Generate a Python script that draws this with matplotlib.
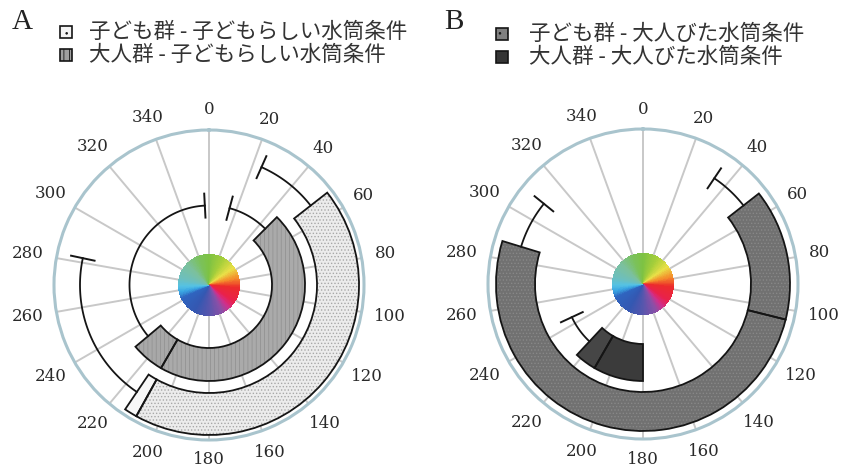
import numpy as np
import matplotlib
matplotlib.use('Agg')
import matplotlib.pyplot as plt
from matplotlib.patches import Rectangle
from matplotlib.colors import LinearSegmentedColormap

plt.rcParams['hatch.linewidth'] = 0.6

W, H = 841, 471

# angle ticks (degrees, clockwise from top)
tick_angles = list(range(0, 360, 20))
tick_labels = [str(a) for a in tick_angles]

# hue wheel in the middle
wheel_angles = [0, 30, 55, 75, 95, 125, 140, 155, 180, 210, 245, 257, 268, 285, 315, 340, 360]
wheel_colors = ['#7dc243', '#a9cf3a', '#e9e048', '#f4902c', '#ec2b2b', '#e9214c', '#cf2f8c',
                '#8a4fa7', '#5856ad', '#3457b1', '#2f64bf', '#3aa5e2', '#55c2e4', '#6dbfbd',
                '#7cc09c', '#7bc15d', '#7dc243']

# panel A : start, split, end of each bar (deg), error bar caps (deg), ring (px)
a_labels = ['子ども群 - 子どもらしい水筒条件', '大人群 - 子どもらしい水筒条件']
a_edges = [[52, 209, 214], [45, 210, 230]]
a_err = [[24, 282], [15, 357]]
a_rings = [[108, 150], [63, 96]]

# panel B
b_labels = ['子ども群 - 大人びた水筒条件', '大人群 - 大人びた水筒条件']
b_edges = [[52, 104, 287], [180, 210, 223]]
b_err = [[34, 309], [None, 245]]
b_rings = [[108, 147], [60, 97]]

# fill styles: (face, hatch colour, hatch) for the two parts of each bar
a_styles = [[('#ececec', '#a8a8a8', '.....'), ('#f7f7f7', '#f7f7f7', None)],
            [('#aaaaaa', '#939393', '||||'), ('#a8a8a8', '#939393', '||||')]]
b_styles = [[('#717171', '#888888', '.....'), ('#717171', '#888888', '.....')],
            [('#3b3b3b', '#3b3b3b', None), ('#464646', '#464646', None)]]

R = 155
cmap = LinearSegmentedColormap.from_list('wheel', list(zip(np.array(wheel_angles) / 360, wheel_colors)))

fig = plt.figure(figsize=(W / 100, H / 100), dpi=100)
fig.patch.set_facecolor('white')


def px(x, y):
    return x / W, 1 - y / H


def panel(cx, cy, edges, errs, rings, styles):
    ax = fig.add_axes([(cx - R) / W, (H - cy - R) / H, 2 * R / W, 2 * R / H], projection='polar')
    ax.set_theta_zero_location('N')
    ax.set_theta_direction(-1)
    ax.set_ylim(0, R)
    ax.set_axisbelow(True)
    ax.set_xticks(np.deg2rad(tick_angles))
    ax.set_xticklabels([])
    ax.set_yticks([])
    ax.xaxis.grid(True, color='#c8c8c8', lw=1.4)
    ax.spines['polar'].set_color('#a9c4cd')
    ax.spines['polar'].set_linewidth(2.2)

    for a, lab in zip(tick_angles, tick_labels):
        s = abs(np.sin(np.deg2rad(a)))
        r = 175 + 4 * s + (5 * s if len(lab) > 2 else 0)
        ax.text(np.deg2rad(a), r, lab, ha='center', va='center', fontsize=12,
                family='DejaVu Serif', color='#2a2a2a')

    # hue wheel
    th_edges = np.deg2rad(np.arange(0, 361, 1.0))
    r_edges = np.array([0, 31])
    hues = np.arange(0, 360, 1.0)[None, :] / 360
    ax.pcolormesh(th_edges, r_edges, hues, cmap=cmap, vmin=0, vmax=1,
                  shading='flat', antialiased=False, zorder=2)

    for (s, m, e), (lo, hi), (r0, r1), sty in zip(edges, errs, rings, styles):
        for (t0, t1), (fc, hc, hatch) in zip([(s, m), (m, e)], sty):
            ax.bar(np.deg2rad(t0), r1 - r0, width=np.deg2rad(t1 - t0), bottom=r0, align='edge',
                   facecolor=fc, edgecolor=hc, hatch=hatch, lw=0, zorder=3)
            ax.bar(np.deg2rad(t0), r1 - r0, width=np.deg2rad(t1 - t0), bottom=r0, align='edge',
                   facecolor='none', edgecolor='#151515', lw=1.3, zorder=4)
        rm = (r0 + r1) / 2
        for a0, a1 in [(lo, s), (e, hi)]:
            if a0 is None or a1 is None:
                continue
            arc = np.deg2rad(np.linspace(a0, a1, 80))
            ax.plot(arc, np.full_like(arc, rm), color='#151515', lw=1.3, zorder=4)
        for c in (lo, hi):
            if c is None:
                continue
            ax.plot([np.deg2rad(c)] * 2, [rm - 12, rm + 12], color='#151515', lw=1.4, zorder=4)
    ax.set_ylim(0, R)
    return ax


panel(209, 285, a_edges, a_err, a_rings, a_styles)
panel(643, 284, b_edges, b_err, b_rings, b_styles)


def legend(letter, lx, sx, tx, rows, labels, swatches):
    fig.text(*px(lx, 22), letter, family='Liberation Serif', fontsize=21, color='#222222',
             ha='left', va='center')
    for y, lab, (fc, hatch) in zip(rows, labels, swatches):
        x0, y0 = px(sx, y + 6)
        fig.add_artist(Rectangle((x0, y0), 12 / W, 12 / H, transform=fig.transFigure,
                                 facecolor=fc, edgecolor='#151515', hatch=hatch, lw=1.2))
        fig.text(*px(tx, y), lab, family=['Noto Sans CJK JP', 'DejaVu Sans'], fontsize=15.5,
                 color='#333333', ha='left', va='center')


legend('A', 12, 60, 89, [32, 55], a_labels, [('#f4f4f4', '..'), ('#a0a0a0', '|||')])
legend('B', 444, 496, 529, [34, 57], b_labels, [('#808080', '..'), ('#353535', None)])

fig.savefig('out.png', dpi=100, facecolor='white')
